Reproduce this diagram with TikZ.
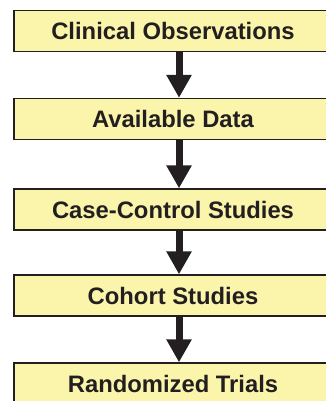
\documentclass[tikz,border=0pt]{standalone}
\usepackage{fontspec}
\setmainfont{Liberation Sans}
\usetikzlibrary{arrows.meta}
\definecolor{boxfill}{RGB}{250,245,170}
\definecolor{boxline}{RGB}{35,31,32}
\tikzset{
  stagebox/.style={draw=boxline, line width=1.4pt, fill=boxfill, minimum width=318pt, minimum height=41pt, inner sep=0pt, font=\bfseries\fontsize{23.8pt}{26pt}\selectfont, text=boxline},
  flowarrow/.style={draw=boxline, line width=7pt, -{Triangle[width=24pt,length=23pt]}}
}
\begin{document}
\begin{tikzpicture}[x=1pt,y=1pt]
\useasboundingbox (0,0) rectangle (326,-401);
\clip (0,0) rectangle (326,-401);
\coordinate (ax) at (179,0);
\node[stagebox] (b1) at (173,-31) {Clinical Observations};
\node[stagebox] (b2) at (173,-119) {Available Data};
\node[stagebox] (b3) at (173,-209.5) {Case-Control Studies};
\node[stagebox] (b4) at (173,-295.5) {Cohort Studies};
\node[stagebox] (b5) at (173,-383.5) {Randomized Trials};
\draw[flowarrow] (b1.south -| ax) -- (b2.north -| ax);
\draw[flowarrow] (b2.south -| ax) -- (b3.north -| ax);
\draw[flowarrow] (b3.south -| ax) -- (b4.north -| ax);
\draw[flowarrow] (b4.south -| ax) -- (b5.north -| ax);
\end{tikzpicture}
\end{document}
